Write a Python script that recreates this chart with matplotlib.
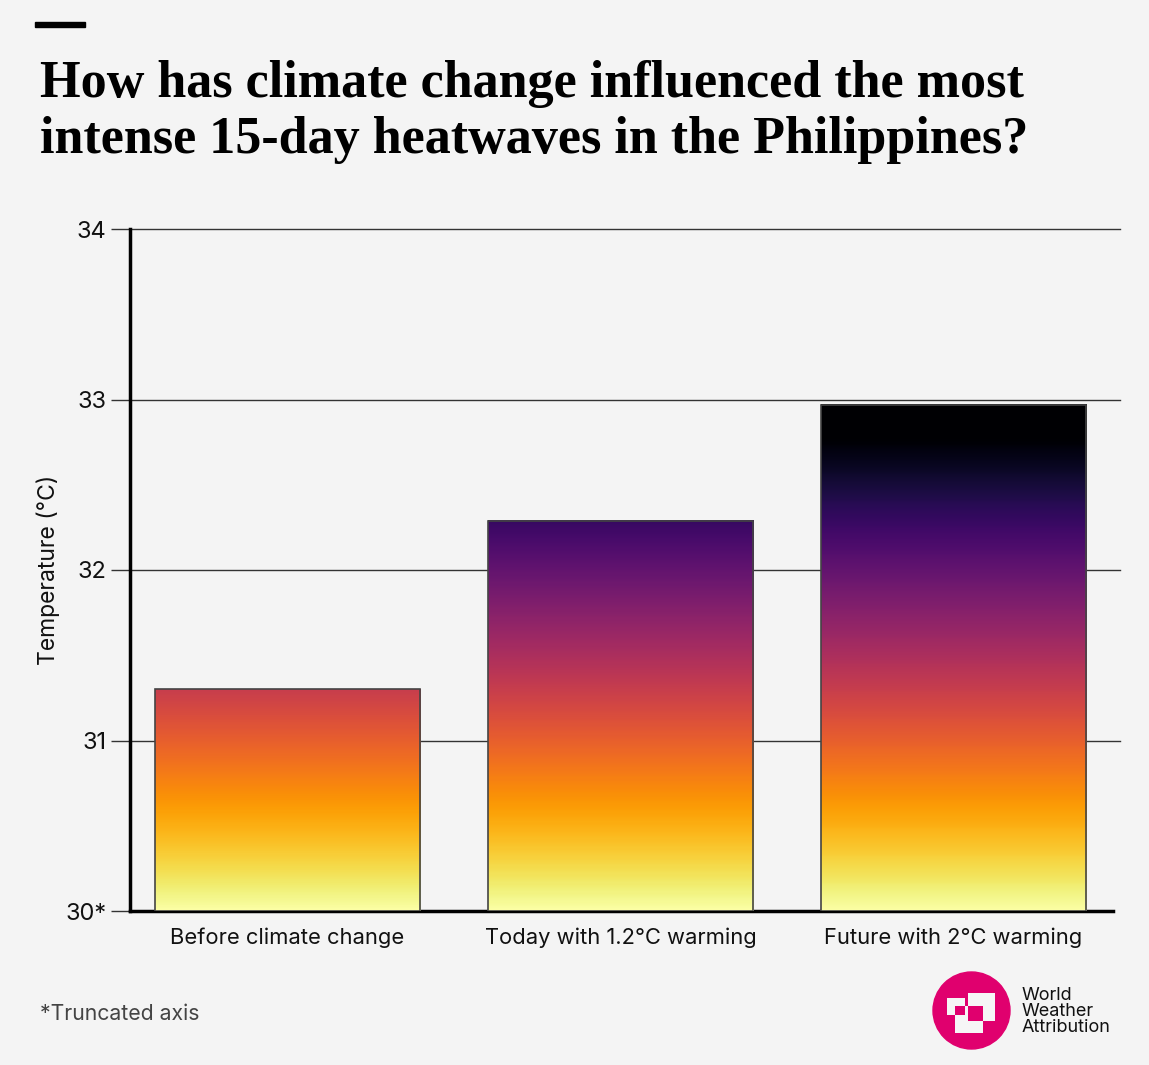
import numpy as np
import matplotlib.pyplot as plt
from matplotlib.patches import Rectangle, Circle
from matplotlib.colors import Normalize

plt.rcParams['font.family'] = ['Inter', 'DejaVu Sans']
plt.rcParams['axes.unicode_minus'] = False

# data
categories = ['Before climate change', 'Today with 1.2°C warming', 'Future with 2°C warming']
temps = [31.3, 32.29, 32.97]
yticks = [30, 31, 32, 33, 34]
ytick_labels = ['30*', '31', '32', '33', '34']

BG = '#f4f4f4'
W, H = 1149, 1065
fig = plt.figure(figsize=(W / 100, H / 100), dpi=100, facecolor=BG)

# main axes, placed in pixel terms
ax = fig.add_axes([130 / W, 1 - 911 / H, 983 / W, 682 / H], facecolor=BG)
ax.set_ylim(30, 34)
ax.set_xlim(-0.473, 2.479)

# colour follows absolute temperature, same scale for every bar
norm = Normalize(vmin=30, vmax=32.78)
cmap = plt.get_cmap('inferno_r')
bar_w = 0.796
for i, v in enumerate(temps):
    grad = np.linspace(v, 30, 256).reshape(-1, 1)
    ax.imshow(grad, cmap=cmap, norm=norm, aspect='auto', interpolation='bilinear',
              extent=[i - bar_w / 2, i + bar_w / 2, 30, v], zorder=3)
    ax.add_patch(Rectangle((i - bar_w / 2, 30), bar_w, v - 30, fill=False,
                           edgecolor='#444444', lw=1.2, zorder=4))

# gridlines run a little past the axis end
for t in yticks[1:]:
    ax.axhline(t, xmin=0, xmax=1.007, color='#333333', lw=1, zorder=1, clip_on=False)

ax.set_yticks(yticks)
ax.set_yticklabels(ytick_labels, fontsize=17, color='#111111')
ax.tick_params(axis='y', length=14, width=1, color='#333333', pad=3)
ax.set_xticks(range(len(categories)))
ax.set_xticklabels(categories, fontsize=15.8, color='#111111')
ax.tick_params(axis='x', length=0, pad=12)
ax.set_ylabel('Temperature (°C)', fontsize=16.5, color='#111111', labelpad=4)

for s in ['top', 'right']:
    ax.spines[s].set_visible(False)
for s in ['left', 'bottom']:
    ax.spines[s].set_linewidth(2.5)
    ax.spines[s].set_color('#000000')

# overlay for title, footnote and logo in pixel coords
ov = fig.add_axes([0, 0, 1, 1], facecolor='none')
ov.set_xlim(0, W)
ov.set_ylim(H, 0)
ov.axis('off')
ov.add_patch(Rectangle((35, 22), 50, 5, color='black'))

ov.text(40, 97, 'How has climate change influenced the most', fontsize=37.5, fontweight='bold',
        family='Liberation Serif', color='#000000', va='baseline', ha='left')
ov.text(40, 153, 'intense 15-day heatwaves in the Philippines?', fontsize=37.5, fontweight='bold',
        family='Liberation Serif', color='#000000', va='baseline', ha='left')

ov.text(40, 1014, '*Truncated axis', fontsize=15.3, color='#444444', va='center', ha='left')

# logo
pink = '#e0006e'
ov.add_patch(Circle((971.5, 1010.5), 38.5, color=pink))
for (x0, y0, x1, y1) in [(946.7, 998, 965, 1015.3), (968.3, 993, 995, 1020.7),
                         (955, 1006.3, 982.7, 1033)]:
    ov.add_patch(Rectangle((x0, y0), x1 - x0, y1 - y0, color='#f6f6f6', lw=0))
for (x0, y0, x1, y1) in [(955, 1006.3, 965, 1015.3), (968.3, 1006.3, 982.7, 1020.7)]:
    ov.add_patch(Rectangle((x0, y0), x1 - x0, y1 - y0, color=pink, lw=0))
for k, word in enumerate(['World', 'Weather', 'Attribution']):
    ov.text(1022, 996 + 16 * k, word, fontsize=13, color='#111111', va='center', ha='left')

fig.savefig('out.png', dpi=100, facecolor=BG)
